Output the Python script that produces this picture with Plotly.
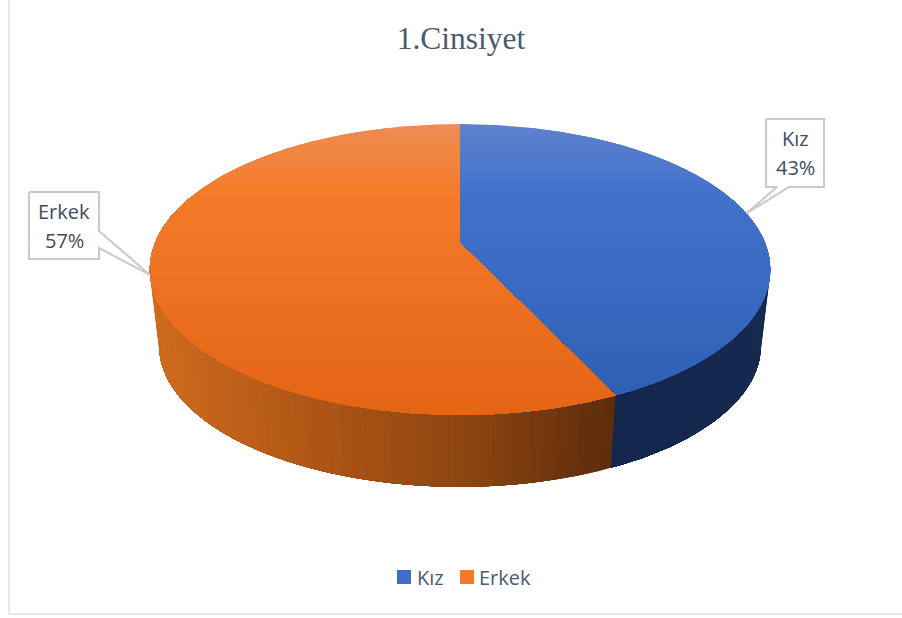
import math
import plotly.graph_objects as go

# ---- chart data ----
categories = ["Kız", "Erkek"]
shares = [43, 57]
title_text = "1.Cinsiyet"

# ---- styles ----
TEXT = "#3F4C60"
LEGEND_TEXT = "#4A5A70"
TITLE = "#4A5A70"
BORDER = "#C9C9C9"
FRAME = "#E4E7EE"
LEGEND_COLORS = ["#3F6EC4", "#F47A2B"]
# vertical gradient on the top face: (pixel y, rgb)
TOP_STOPS = [
    [(124, (94, 131, 205)), (190, (67, 114, 205)), (300, (57, 104, 192)), (400, (47, 95, 180))],
    [(124, (238, 140, 84)), (190, (244, 124, 43)), (300, (236, 112, 32)), (415, (227, 101, 21))],
]
# horizontal gradient on the side wall: (pixel x, rgb)
SIDE_STOPS = [
    [(610, (19, 39, 77)), (770, (22, 42, 80))],
    [(150, (208, 108, 30)), (300, (178, 88, 22)), (460, (143, 69, 17)), (610, (92, 45, 11))],
]

# ---- projection of the disc (perspective tilt) ----
CX, CY, A, C, D = 460.0, 243.0, -96.4, 0.1821, 305.0
LOW_SCALE, LOW_SHIFT = 0.97, 77.0


def project(theta_deg, low=False):
    t = math.radians(theta_deg)
    u, v = math.sin(t), math.cos(t)
    w = 1 + C * v
    x = CX + D * u / w
    y = (CY + A * v) / w
    if low:
        x = CX + (x - CX) * LOW_SCALE
        y = CY + (y - CY) * LOW_SCALE + LOW_SHIFT
    return x, y


def lerp(stops, p):
    if p <= stops[0][0]:
        c = stops[0][1]
    elif p >= stops[-1][0]:
        c = stops[-1][1]
    else:
        for (p0, c0), (p1, c1) in zip(stops, stops[1:]):
            if p0 <= p <= p1:
                f = (p - p0) / (p1 - p0)
                c = tuple(a + (b - a) * f for a, b in zip(c0, c1))
                break
    return "rgb(%d,%d,%d)" % tuple(round(a) for a in c)


def clip_below(poly, y0):
    """Keep the part of a polygon with y >= y0."""
    out = []
    for (x1, y1), (x2, y2) in zip(poly, poly[1:] + poly[:1]):
        if y1 >= y0:
            out.append((x1, y1))
        if (y1 >= y0) != (y2 >= y0):
            f = (y0 - y1) / (y2 - y1)
            out.append((x1 + (x2 - x1) * f, y0))
    return out


def frange(a, b, step):
    n = max(2, int(abs(b - a) / step) + 1)
    return [a + (b - a) * i / (n - 1) for i in range(n)]


def poly_trace(poly, color, width=0.0, line_color=None):
    xs = [p[0] for p in poly] + [poly[0][0]]
    ys = [p[1] for p in poly] + [poly[0][1]]
    return go.Scatter(
        x=xs, y=ys, mode="lines", fill="toself", fillcolor=color,
        line=dict(color=line_color or color, width=width),
        hoverinfo="skip", showlegend=False,
    )


fig = go.Figure()

total = sum(shares)
bounds = [0.0]
for s in shares:
    bounds.append(bounds[-1] + 360.0 * s / total)

# side wall, painted so every band runs on under the next one (no seams)
for i in range(len(shares)):
    a0, a1 = max(bounds[i], 70.0), min(bounds[i + 1], 290.0)
    if a1 <= a0:
        continue
    th = frange(a0, a1, 2.0)
    for k, t0 in enumerate(th[:-1]):
        rest = th[k:]
        wall = [project(t) for t in rest] + [project(t, True) for t in reversed(rest)]
        xm = (project(t0, True)[0] + project(th[k + 1], True)[0]) / 2
        fig.add_trace(poly_trace(wall, lerp(SIDE_STOPS[i], xm)))

# top face, painted from the top down so bands leave no seams
for i in range(len(shares)):
    rim = [project(t) for t in frange(bounds[i], bounds[i + 1], 0.5)]
    sector = [(CX, CY)] + rim
    y = 124.0
    while y < 416:
        piece = clip_below(sector, y)
        if len(piece) > 2:
            fig.add_trace(poly_trace(piece, lerp(TOP_STOPS[i], y + 2)))
        y += 4.0

# callouts: tip sits on the rim at each slice's mid angle
BOXES = [(766, 824, 119, 187, "bottom", 777, 789), (29, 99, 192, 259, "right", 231, 248)]
LABEL_FONT = dict(family="Open Sans", size=20, color=TEXT)
annotations = []
for i, (name, share) in enumerate(zip(categories, shares)):
    tip = project((bounds[i] + bounds[i + 1]) / 2)
    x0, x1, y0, y1, side, w0, w1 = BOXES[i]
    if side == "bottom":
        outline = [(x0, y0), (x1, y0), (x1, y1), (w1, y1), tip, (w0, y1), (x0, y1)]
    else:
        outline = [(x0, y0), (x1, y0), (x1, w0), tip, (x1, w1), (x1, y1), (x0, y1)]
    fig.add_trace(poly_trace(outline, "white", 2.0, BORDER))
    ym = (y0 + y1) / 2
    for text, dy in ((name, -14.5), (f"{share}%", 14.5)):
        annotations.append(dict(
            x=(x0 + x1) / 2, y=ym + dy, xref="x", yref="y", showarrow=False,
            text=text, align="center", font=LABEL_FONT,
        ))

# legend row
LEGEND_Y = 577
LEGEND_MARKER_X = [404, 467]
LEGEND_TEXT_X = [417, 479]
for name, color, mx, tx in zip(categories, LEGEND_COLORS, LEGEND_MARKER_X, LEGEND_TEXT_X):
    fig.add_trace(go.Scatter(
        x=[mx], y=[LEGEND_Y], mode="markers", name=name, showlegend=False,
        marker=dict(symbol="square", size=14, color=color, line=dict(width=0)),
        hoverinfo="skip",
    ))
    annotations.append(dict(
        x=tx, y=LEGEND_Y, xref="x", yref="y", showarrow=False, xanchor="left",
        xshift=-2, text=name, font=dict(family="Open Sans", size=20, color=LEGEND_TEXT),
    ))

shapes = [
    dict(type="line", xref="x", yref="y", x0=9, x1=9, y0=0, y1=614, line=dict(color=FRAME, width=2)),
    dict(type="line", xref="x", yref="y", x0=9, x1=902, y0=614, y1=614, line=dict(color=FRAME, width=2)),
]

fig.update_layout(
    width=902, height=618,
    margin=dict(l=0, r=0, t=0, b=0),
    paper_bgcolor="white", plot_bgcolor="white",
    showlegend=False,
    title=dict(text=title_text, x=461 / 902, y=1 - 37.5 / 618, xanchor="center", yanchor="middle",
               font=dict(family="Liberation Serif", size=31.5, color=TITLE)),
    xaxis=dict(range=[0, 902], visible=False, fixedrange=True),
    yaxis=dict(range=[618, 0], visible=False, fixedrange=True),
    annotations=annotations,
    shapes=shapes,
    hovermode=False,
)

fig.write_html(
    "out.html",
    config=dict(displayModeBar=False),
    post_script="document.body.style.margin='0';document.body.style.overflow='hidden';",
)
